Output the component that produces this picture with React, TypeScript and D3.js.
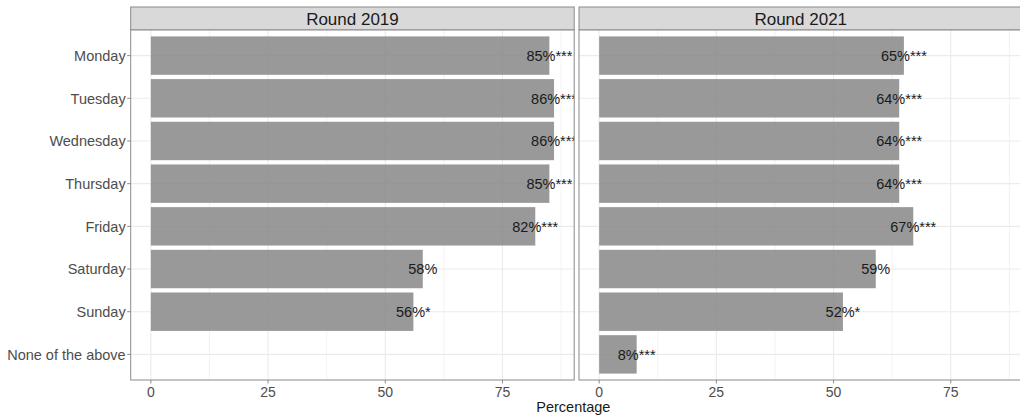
import React from 'react';
import * as d3 from 'd3';

const categories = ['Monday', 'Tuesday', 'Wednesday', 'Thursday', 'Friday', 'Saturday', 'Sunday', 'None of the above'];
const panels = ['Round 2019', 'Round 2021'];
const values2019: (number | null)[] = [85, 86, 86, 85, 82, 58, 56, null];
const values2021: (number | null)[] = [65, 64, 64, 64, 67, 59, 52, 8];
const stars2019 = ['***', '***', '***', '***', '***', '', '*', ''];
const stars2021 = ['***', '***', '***', '***', '***', '', '*', '***'];
const xTicks = [0, 25, 50, 75];
const xMinor = [12.5, 37.5, 62.5, 87.5];

const W = 1020;
const H = 415;
const FONT = '"Liberation Sans", Arial, sans-serif';
const BORDER = '#8a8a8a';
const GRID = '#ebebeb';

const panelW = 443.5;
const panelLeft = [130.7, 579];
const stripTop = 7;
const panelTop = 30;
const panelBottom = 380;

const App: React.FC = () => {
  const x = d3.scaleLinear().domain([-4.3, 90.3]).range([0, panelW]);
  const y = d3.scalePoint<string>().domain(categories).range([panelTop, panelBottom]).padding(0.6);
  const barH = y.step() * 0.9;
  const series = [
    { values: values2019, stars: stars2019 },
    { values: values2021, stars: stars2021 },
  ];

  return (
    <svg width={W} height={H} style={{ position: 'absolute', left: 0, top: 0, background: '#fff' }} fontFamily={FONT}>
      <defs>
        {panels.map((p, i) => (
          <clipPath id={`clip${i}`} key={p}>
            <rect x={panelLeft[i]} y={panelTop} width={panelW} height={panelBottom - panelTop} />
          </clipPath>
        ))}
      </defs>

      {panels.map((p, i) => {
        const left = panelLeft[i];
        const s = series[i];
        return (
          <g key={p}>
            {/* strip */}
            <rect x={left} y={stripTop} width={panelW} height={panelTop - stripTop} fill="#d9d9d9" stroke={BORDER} strokeWidth={1} />
            <text x={left + panelW / 2} y={(stripTop + panelTop) / 2} dy="0.36em" textAnchor="middle" fontSize={17} fill="#1a1a1a">
              {p}
            </text>

            <g clipPath={`url(#clip${i})`}>
              <rect x={left} y={panelTop} width={panelW} height={panelBottom - panelTop} fill="#fff" />
              {xMinor.map(t => (
                <line key={'m' + t} x1={left + x(t)} x2={left + x(t)} y1={panelTop} y2={panelBottom} stroke={GRID} strokeWidth={0.6} />
              ))}
              {xTicks.map(t => (
                <line key={'g' + t} x1={left + x(t)} x2={left + x(t)} y1={panelTop} y2={panelBottom} stroke={GRID} strokeWidth={1.1} />
              ))}
              {categories.map(c => (
                <line key={'h' + c} x1={left} x2={left + panelW} y1={y(c)!} y2={y(c)!} stroke={GRID} strokeWidth={1.1} />
              ))}
              {categories.map((c, j) => {
                const v = s.values[j];
                if (v == null) return null;
                return (
                  <rect key={'b' + c} x={left + x(0)} y={y(c)! - barH / 2} width={x(v) - x(0)} height={barH} fill="#878787" fillOpacity={0.85} />
                );
              })}
              {categories.map((c, j) => {
                const v = s.values[j];
                if (v == null) return null;
                return (
                  <text key={'t' + c} x={left + x(v)} y={y(c)!} dy="0.36em" textAnchor="middle" fontSize={14.5} fill="#1a1a1a">
                    {`${v}%${s.stars[j]}`}
                  </text>
                );
              })}
            </g>

            <rect x={left} y={panelTop} width={panelW} height={panelBottom - panelTop} fill="none" stroke={BORDER} strokeWidth={1} />

            {xTicks.map(t => (
              <g key={'xt' + t}>
                <line x1={left + x(t)} x2={left + x(t)} y1={panelBottom} y2={panelBottom + 3.5} stroke={BORDER} strokeWidth={1} />
                <text x={left + x(t)} y={panelBottom + 12} dy="0.36em" textAnchor="middle" fontSize={14} fill="#4d4d4d">
                  {t}
                </text>
              </g>
            ))}
          </g>
        );
      })}

      {categories.map(c => (
        <g key={'yl' + c}>
          <line x1={panelLeft[0] - 3.5} x2={panelLeft[0]} y1={y(c)!} y2={y(c)!} stroke={BORDER} strokeWidth={1} />
          <text x={panelLeft[0] - 5} y={y(c)!} dy="0.36em" textAnchor="end" fontSize={14.5} fill="#4d4d4d">
            {c}
          </text>
        </g>
      ))}

      <text x={(panelLeft[0] + 1016) / 2} y={407} dy="0.36em" textAnchor="middle" fontSize={14.5} fill="#1a1a1a">
        Percentage
      </text>
    </svg>
  );
};

export default App;
